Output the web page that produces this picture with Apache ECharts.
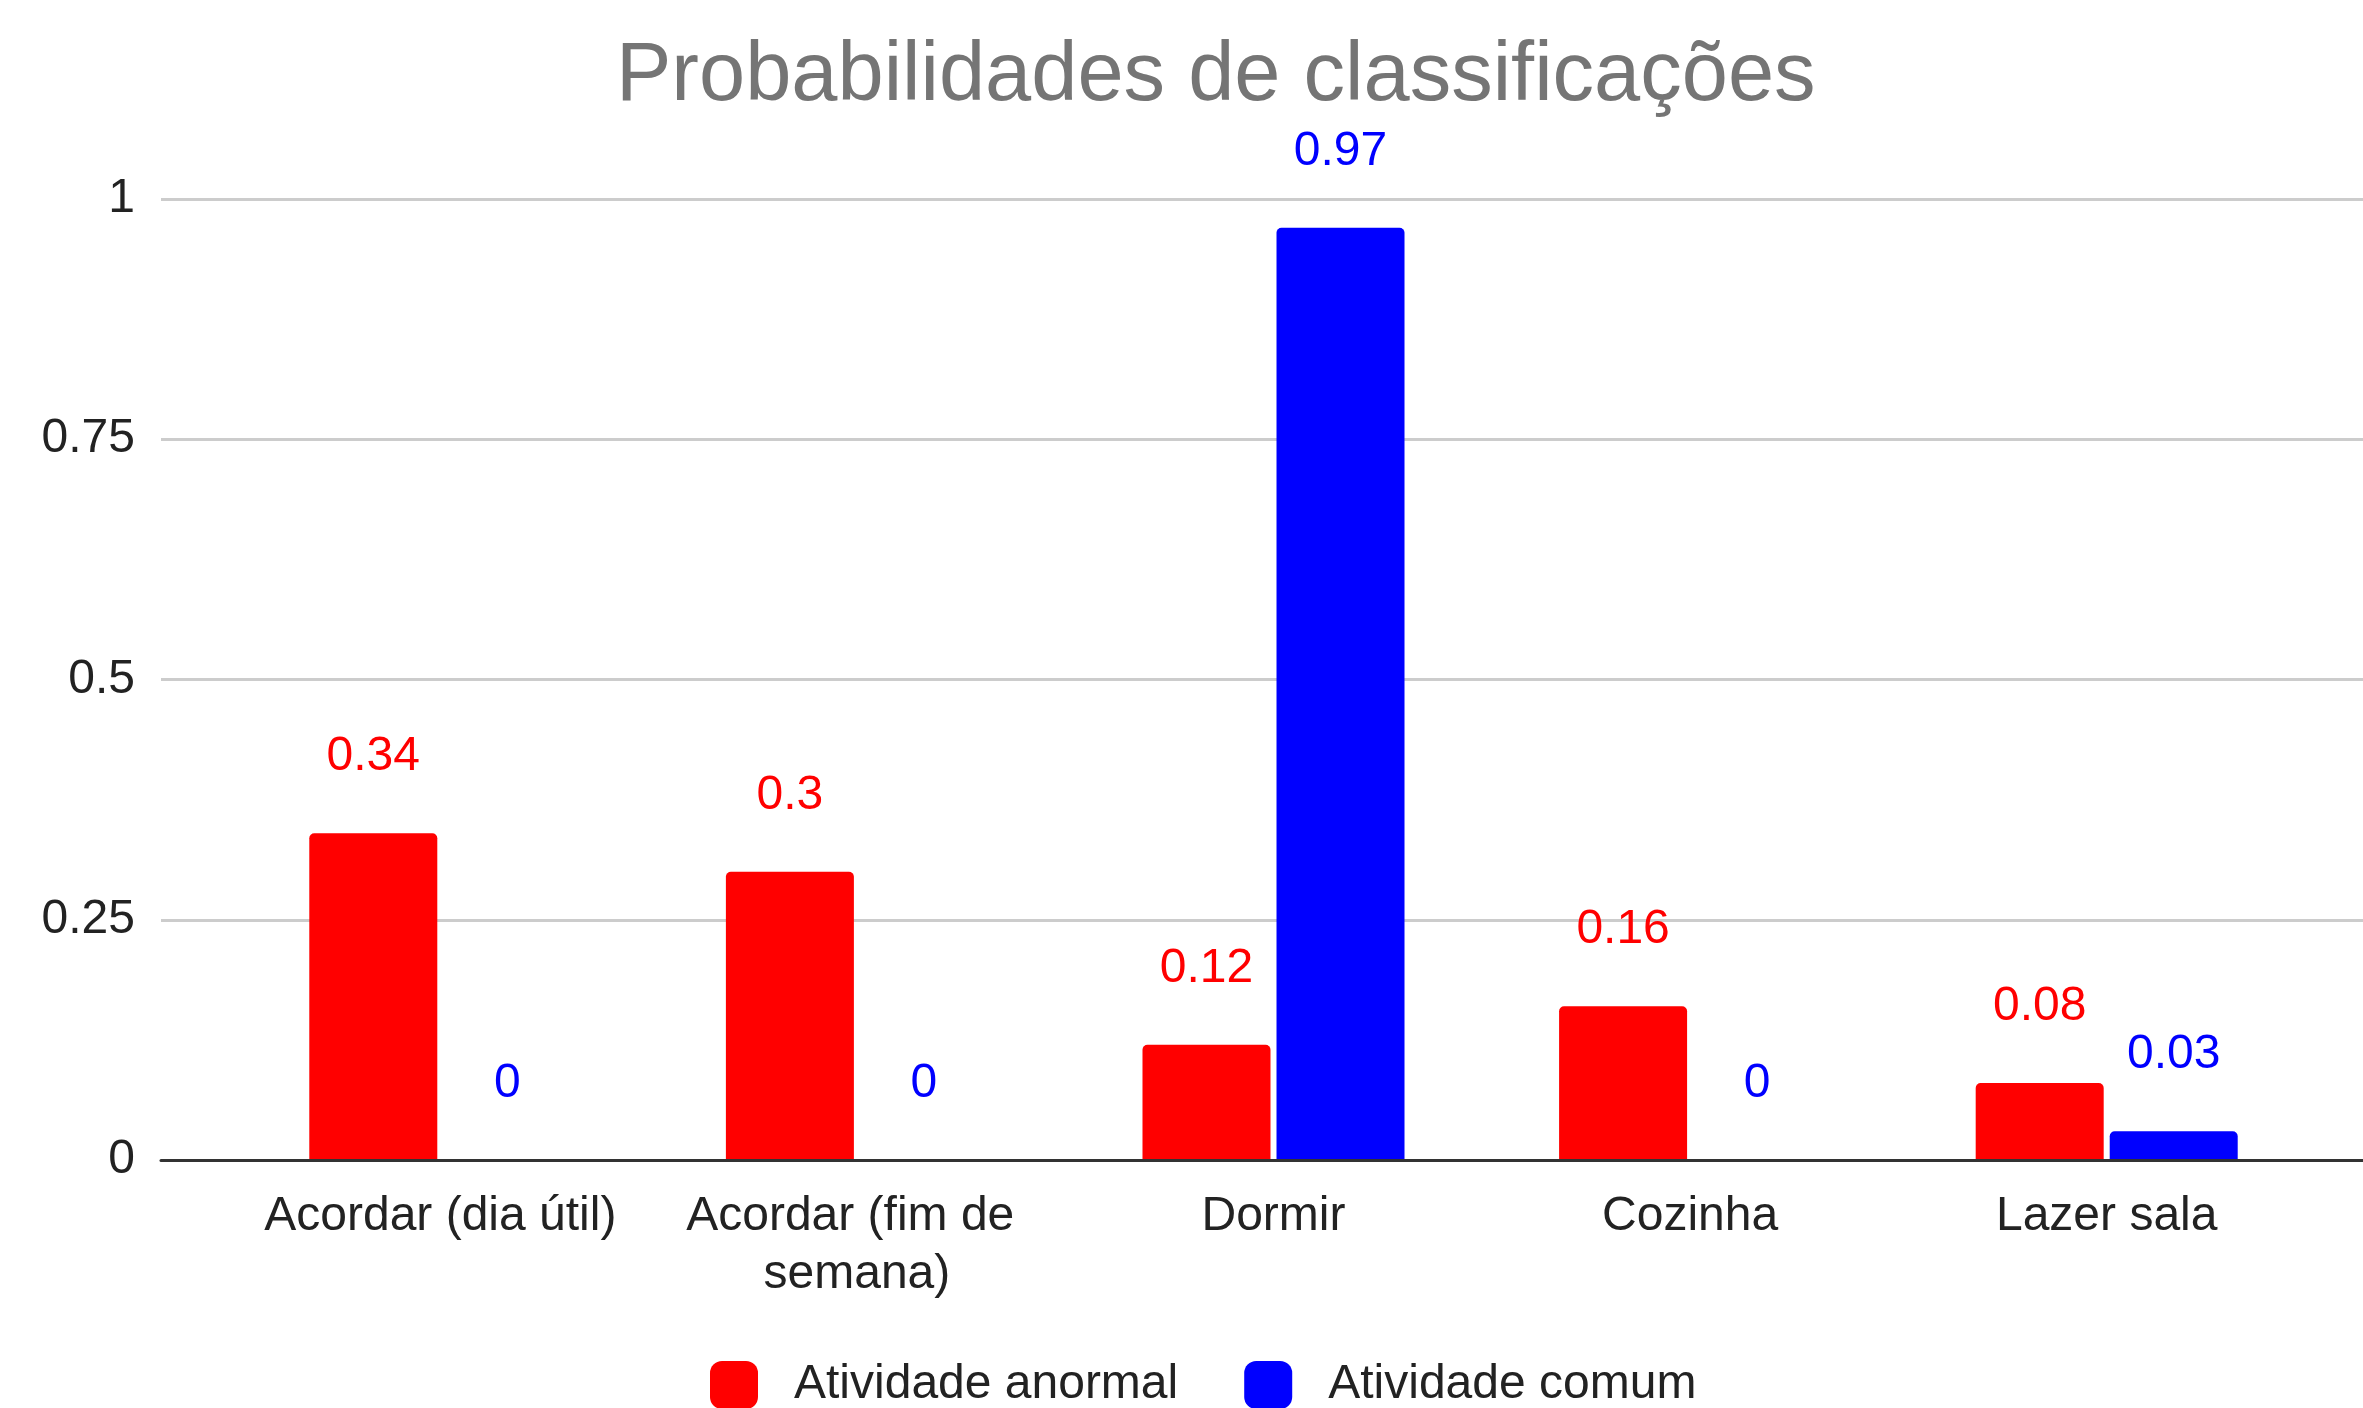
<!DOCTYPE html>
<html>
<head>
<meta charset="utf-8">
<title>Probabilidades de classificações</title>
<script src="https://cdn.jsdelivr.net/npm/echarts@6/dist/echarts.min.js"></script>
<style>
	html, body { margin: 0; padding: 0; background: #fff; }
	#chart { width: 2363px; height: 1408px; }
</style>
</head>
<body>
<div id="chart"></div>
<script>
	// dados do gráfico
	var categorias = ['Acordar (dia útil)', 'Acordar (fim de semana)', 'Dormir', 'Cozinha', 'Lazer sala'];
	var anormal = [0.34, 0.3, 0.12, 0.16, 0.08];
	var comum = [0, 0, 0.97, 0, 0.03];
	var nomesSeries = ['Atividade anormal', 'Atividade comum'];
	var coresSeries = ['#ff0000', '#0000ff'];

	var fonte = '"Liberation Sans", Arial, sans-serif';

	function serieBarra(i, dados){
		return {
			name: nomesSeries[i],
			type: 'bar',
			xAxisIndex: 1,
			yAxisIndex: 1,
			barWidth: 128,
			barGap: '4.7%',
			data: dados,
			itemStyle: {
				color: coresSeries[i],
				borderRadius: [5, 5, 0, 0]
			},
			label: {
				show: true,
				position: 'top',
				distance: 52,
				color: coresSeries[i],
				fontFamily: fonte,
				fontSize: 48
			}
		};
	}

	var option = {
		animation: false,
		backgroundColor: '#ffffff',
		title: {
			text: 'Probabilidades de classificações',
			left: 611,
			top: 31,
			textStyle: {
				color: '#757575',
				fontFamily: fonte,
				fontWeight: 'normal',
				fontSize: 83
			}
		},
		legend: {
			data: nomesSeries,
			left: 705,
			top: 1356,
			itemWidth: 48,
			itemHeight: 48,
			itemGap: 66,
			icon: 'roundRect',
			textStyle: {
				color: '#222222',
				fontFamily: fonte,
				fontSize: 48,
				padding: [0, 0, 0, 31]
			}
		},
		grid: [
			// grade de fundo (linhas de grade + eixo y)
			{left: 161, right: 0, top: 199, bottom: 248},
			// grade das barras
			{left: 232, right: 48, top: 199, bottom: 248}
		],
		xAxis: [
			{
				gridIndex: 0,
				type: 'value',
				min: 0,
				max: 1,
				z: 10,
				axisLine: {show: true, onZero: true, lineStyle: {color: '#333333', width: 3}},
				axisTick: {show: false},
				axisLabel: {show: false},
				splitLine: {show: false}
			},
			{
				gridIndex: 1,
				type: 'category',
				data: categorias,
				axisLine: {show: false},
				axisTick: {show: false},
				axisLabel: {
					color: '#222222',
					fontFamily: fonte,
					fontSize: 48,
					lineHeight: 58,
					margin: 28,
					width: 400,
					overflow: 'break',
					interval: 0
				}
			}
		],
		yAxis: [
			{
				gridIndex: 0,
				type: 'value',
				min: 0,
				max: 1,
				interval: 0.25,
				axisLine: {show: false},
				axisTick: {show: false},
				axisLabel: {
					color: '#222222',
					fontFamily: fonte,
					fontSize: 48,
					margin: 26,
					padding: [8, 0, 0, 0]
				},
				splitLine: {lineStyle: {color: '#cccccc', width: 3}}
			},
			{
				gridIndex: 1,
				type: 'value',
				min: 0,
				max: 1,
				show: false,
				splitLine: {show: false}
			}
		],
		series: [
			serieBarra(0, anormal),
			serieBarra(1, comum)
		]
	};

	echarts.init(document.getElementById('chart')).setOption(option);
</script>
</body>
</html>
